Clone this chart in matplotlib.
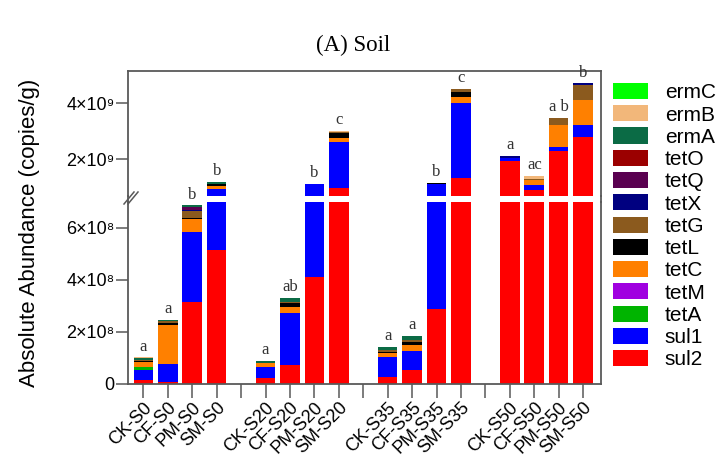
import numpy as np
import matplotlib.pyplot as plt
from matplotlib.lines import Line2D

plt.rcParams['font.family'] = ['Liberation Sans', 'DejaVu Sans']

# samples (one empty slot between groups)
samples = ['CK-S0', 'CF-S0', 'PM-S0', 'SM-S0',
           'CK-S20', 'CF-S20', 'PM-S20', 'SM-S20',
           'CK-S35', 'CF-S35', 'PM-S35', 'SM-S35',
           'CK-S50', 'CF-S50', 'PM-S50', 'SM-S50']
letters = ['a', 'a', 'b', 'b', 'a', 'ab', 'b', 'c',
           'a', 'a', 'b', 'c', 'a', 'ac', 'a b', 'b']

# gene abundances (copies/g), stacking order bottom -> top
sul2 = [1.5e7, 0.9e7, 3.13e8, 5.15e8, 2.2e7, 7.3e7, 4.09e8, 9.86e8,
        2.6e7, 5.4e7, 2.87e8, 1.357e9, 1.95e9, 9.04e8, 2.31e9, 2.79e9]
sul1 = [3.9e7, 6.8e7, 2.69e8, 4.5e8, 4.5e7, 2.01e8, 7.11e8, 1.644e9,
        7.9e7, 7.4e7, 8.33e8, 2.663e9, 1.2e8, 2.0e8, 1.2e8, 4.3e8]
tetA = [1.0e7, 0, 0, 0, 0, 0, 0, 0, 0, 0, 0, 0, 0, 0, 0, 0]
tetM = [0, 0, 0, 0, 0, 0, 0, 0, 0, 0, 0, 0, 0, 0, 0, 0]
tetC = [2.2e7, 1.5e8, 4.9e7, 8.0e7, 1.3e7, 2.1e7, 0, 1.2e8,
        1.3e7, 2.2e7, 0, 1.9e8, 0, 1.5e8, 7.9e8, 9.0e8]
tetL = [0.3e7, 0.8e7, 0.6e7, 8.0e7, 0.2e7, 1.5e7, 1.0e7, 1.8e8,
        0.6e7, 1.2e7, 3.0e7, 2.0e8, 0, 0, 0, 0]
tetG = [0.3e7, 0.5e7, 2.8e7, 2.0e7, 0, 0.3e7, 0, 5.0e7,
        0.5e7, 0.7e7, 0, 9.0e7, 0, 4.0e7, 2.7e8, 5.3e8]
tetX = [0, 0, 0.4e7, 0, 0, 0, 1.0e7, 0, 0, 0, 0, 0, 5.0e7, 2.0e7, 0, 6.0e7]
tetQ = [0, 0, 0.8e7, 0, 0, 0, 0, 0, 0, 0, 3.0e7, 0, 0, 0, 0, 0]
tetO = [0, 0, 0, 0, 0, 0, 0, 0, 0, 0, 0, 0, 0, 0, 0, 0]
ermA = [0.8e7, 0.4e7, 0.8e7, 4.5e7, 0.8e7, 1.7e7, 0, 0,
        1.2e7, 1.6e7, 0, 0, 0, 0, 0, 0]
ermB = [0.2e7, 0.2e7, 0, 0, 0, 0, 0, 4.0e7, 0, 0, 0, 0, 0, 9.0e7, 0, 0]
ermC = [0, 0, 0, 0, 0, 0, 0, 0, 0, 0, 0, 0, 0, 0, 0, 0]

genes = ['sul2', 'sul1', 'tetA', 'tetM', 'tetC', 'tetL', 'tetG',
         'tetX', 'tetQ', 'tetO', 'ermA', 'ermB', 'ermC']
values = [sul2, sul1, tetA, tetM, tetC, tetL, tetG, tetX, tetQ, tetO, ermA, ermB, ermC]
colors = ['#ff0000', '#0000ff', '#00b400', '#a000e0', '#ff8000', '#000000',
          '#8b5a1e', '#000080', '#5a0050', '#9b0000', '#0b6b45', '#f2b77a', '#00ff00']

# x positions: 4 bars per group, one gap slot between groups
xpos = np.array([g * 5 + i for g in range(4) for i in range(4)])
totals = np.sum(np.array(values), axis=0)

fig = plt.figure(figsize=(7.26, 4.57), dpi=100)
L, W = 128 / 726, 472.7 / 726
ax_hi = fig.add_axes([L, (457 - 196) / 457, W, (196 - 71) / 457])
ax_lo = fig.add_axes([L, (457 - 384) / 457, W, (384 - 201.5) / 457])
ax_lo.set_zorder(2)
ax_lo.patch.set_visible(False)

lo_max = 7.0e8
for ax in (ax_lo, ax_hi):
    bottom = np.zeros(len(samples))
    for name, vals, c in zip(genes, values, colors):
        ax.bar(xpos, vals, width=0.8, bottom=bottom, color=c, label=name,
               linewidth=0)
        bottom += np.array(vals)
    ax.set_xlim(-0.63, 18.72)
    for s in ax.spines.values():
        s.set_color('0.35')
        s.set_linewidth(1.3)
    ax.tick_params(axis='y', length=8.5, width=1.1, color='0.35', labelsize=13, pad=1)

ax_lo.set_ylim(0, lo_max)
ax_hi.set_ylim(lo_max, 5.15e9)
ax_lo.spines['top'].set_visible(False)
ax_hi.spines['bottom'].set_visible(False)

ax_lo.set_yticks([0, 2e8, 4e8, 6e8])
ax_lo.set_yticklabels(['0', '2×10⁸', '4×10⁸', '6×10⁸'])
ax_hi.set_yticks([2e9, 4e9])
ax_hi.set_yticklabels(['2×10⁹', '4×10⁹'])

ax_hi.set_xticks([])
ax_lo.set_xticks(np.arange(19))
ax_lo.set_xticklabels([samples[list(xpos).index(i)] if i in xpos else '' for i in range(19)],
                      rotation=45, ha='right', rotation_mode='anchor', fontsize=13)
ax_lo.tick_params(axis='x', length=10, width=1.1, color='0.35', pad=1)

# significance letters
for x, t, lab in zip(xpos, totals, letters):
    ax = ax_lo if t < lo_max else ax_hi
    ax.annotate(lab, (x, t), xytext=(0, 2), textcoords='offset points',
                ha='center', va='bottom', fontsize=12, family='Liberation Serif',
                color='#333333', annotation_clip=False)

# connect spines across the gap and draw break marks
y0, y1 = (457 - 201.5) / 457, (457 - 196) / 457
for xx in (L, L + W):
    fig.add_artist(Line2D([xx, xx], [y0, y1], color='0.35', lw=1.3))
for dx in (0, 4):
    fig.add_artist(Line2D([(124 + dx) / 726, (134 + dx) / 726],
                          [(457 - 204) / 457, (457 - 192) / 457],
                          color='0.35', lw=1.1))

fig.text(353 / 726, 1 - 45 / 457, '(A) Soil', ha='center', va='center',
         fontsize=16.5, family='Liberation Serif')
fig.text(30 / 726, 1 - 233 / 457, 'Absolute Abundance (copies/g)', rotation=90,
         ha='center', va='center', fontsize=16)

h, l = ax_lo.get_legend_handles_labels()
fig.legend(h[::-1], l[::-1], loc='upper left', bbox_to_anchor=(613 / 726, 1 - 83 / 457),
           frameon=False, fontsize=15, borderpad=0, borderaxespad=0,
           handlelength=1.68, handleheight=0.82, handletextpad=0.8, labelspacing=0.14)

fig.savefig('out.png', dpi=100)
